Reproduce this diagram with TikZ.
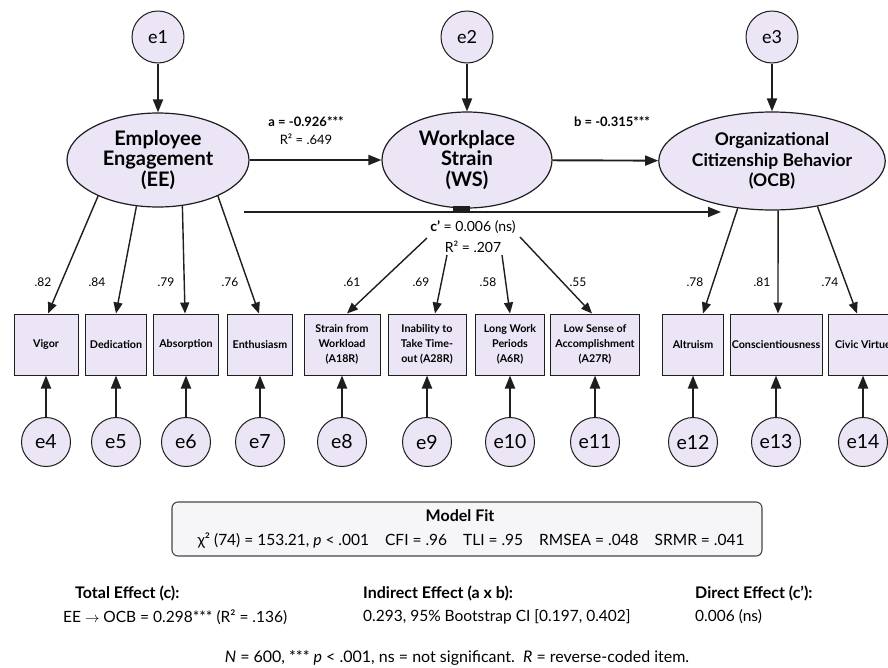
\documentclass[tikz,border=0pt]{standalone}
\usepackage{fontspec}
\setmainfont{Lato}
\usetikzlibrary{arrows.meta, positioning, shapes.geometric, calc}
\definecolor{latentfill}{RGB}{235,229,246}
\definecolor{linegray}{RGB}{30,30,30}
\definecolor{fitfill}{RGB}{246,246,249}
\definecolor{fitline}{RGB}{70,70,70}

\begin{document}
\begin{tikzpicture}[
  x=1pt, y=-1pt,
  latent/.style={ellipse, draw=linegray, line width=1.2pt, fill=latentfill, inner sep=0pt, font=\fontsize{20}{20.5}\selectfont\bfseries, align=center},
  errtop/.style={circle, draw=linegray, line width=1pt, fill=latentfill, minimum size=52pt, inner sep=0pt, font=\fontsize{18}{20}\selectfont},
  errbot/.style={circle, draw=linegray, line width=1pt, fill=latentfill, minimum size=49pt, inner sep=0pt, font=\fontsize{19.5}{22}\selectfont},
  indicator/.style={rectangle, draw=linegray, line width=1pt, fill=latentfill, minimum height=61pt, inner sep=1pt, font=\fontsize{10.7}{15}\selectfont\bfseries, align=center},
  arr/.style={-{Triangle[length=13pt,width=10pt]}, line width=1.9pt, linegray},
  load/.style={-{Triangle[length=11pt,width=9pt]}, line width=1.4pt, linegray},
  coef/.style={inner sep=0pt, font=\fontsize{12}{13}\selectfont},
  pathlab/.style={inner sep=0pt, font=\fontsize{13}{15}\selectfont},
  txt/.style={inner sep=0pt, font=\fontsize{15.5}{18}\selectfont},
  heading/.style={inner sep=0pt, font=\fontsize{16}{18}\selectfont\bfseries}
]
  \useasboundingbox (0,0) rectangle (888,667);
  \clip (0,0) rectangle (888,667);
  \fill[white] (0,0) rectangle (888,667);

  % latent variables
  \node[latent, minimum width=182pt, minimum height=94pt] (ee) at (158,160) {Employee\\Engagement\\(EE)};
  \node[latent, minimum width=170pt, minimum height=96pt] (ws) at (467,160) {Workplace\\Strain\\(WS)};
  \node[latent, minimum width=206pt, minimum height=98pt, font=\fontsize{17.5}{20.5}\selectfont\bfseries] (ocb) at (772,161) {Organizational\\Citizenship Behavior\\(OCB)};

  \node[errtop] (e1) at (158,37) {e1};
  \node[errtop] (e2) at (467,37) {e2};
  \node[errtop] (e3) at (772,37) {e3};
  \draw[arr] (e1) -- (ee);
  \draw[arr] (e2) -- (ws);
  \draw[arr] (e3) -- (ocb);

  % structural paths
  \draw[arr] (ee) -- (ws);
  \draw[arr] (ws) -- (ocb);
  \node[pathlab, font=\fontsize{13}{15}\selectfont\bfseries] (alab) at (306,122) {a = -0.926***};
  \node[pathlab] (ar2) at (306,139) {R² = .649};
  \node[pathlab, font=\fontsize{13}{15}\selectfont\bfseries] (blab) at (612,122) {b = -0.315***};

  \coordinate (cstart) at (244,212);
  \coordinate (cend) at (721,212);
  \fill[linegray] (453,206) rectangle (470,213);
  \draw[arr] (cstart) -- (cend);
  \node[pathlab, font=\fontsize{14}{15}\selectfont] (clab) at (473,227) {\textbf{c’} = 0.006 (ns)};
  \node[pathlab, font=\fontsize{14}{15}\selectfont] (cr2) at (473,247) {R² = .207};

  % indicators
  \node[indicator, minimum width=64pt] (vigor) at (46,344.5) {Vigor};
  \node[indicator, minimum width=61pt] (ded) at (116,344.5) {Dedication};
  \node[indicator, minimum width=65pt] (abs) at (186,344.5) {Absorption};
  \node[indicator, minimum width=65pt] (enth) at (260,344.5) {Enthusiasm};
  \node[indicator, minimum width=76pt] (a18) at (342,344.5) {Strain from\\Workload\\(A18R)};
  \node[indicator, minimum width=78pt] (a28) at (427,344.5) {Inability to\\Take Time-\\out (A28R)};
  \node[indicator, minimum width=69pt] (a6) at (510,344.5) {Long Work\\Periods\\(A6R)};
  \node[indicator, minimum width=89pt] (a27) at (595,344.5) {Low Sense of\\Accomplishment\\(A27R)};
  \node[indicator, minimum width=61pt] (alt) at (693,344.5) {Altruism};
  \node[indicator, minimum width=92pt] (con) at (776,344.5) {Conscientiousness};
  \node[indicator, minimum width=70pt] (civ) at (863,344.5) {Civic Virtue};

  % loadings
  \draw[load] (ee.-149) -- ([xshift=2pt]vigor.north);
  \draw[load] (ee.-115) -- (ded.north);
  \draw[load] (ee.-62) -- ([xshift=-1pt]abs.north);
  \draw[load] (ee.-31) -- ([xshift=-1pt]enth.north);
  \coordinate (s1) at (427,238);
  \coordinate (s2) at (447,255);
  \coordinate (s3) at (502,255);
  \coordinate (s4) at (520,237);
  \draw[load] (s1) -- ([xshift=5pt]a18.north);
  \draw[load] (s2) -- ([xshift=8pt]a28.north);
  \draw[load] (s3) -- (a6.north);
  \draw[load] (s4) -- ([xshift=-3pt]a27.north);
  \draw[load] (ocb.-126) -- ([xshift=10pt]alt.north);
  \draw[load] (ocb.-83) -- ([xshift=2pt]con.north);
  \draw[load] (ocb.-45) -- ([xshift=-6pt]civ.north);

  \node[coef] (l1) at (43,282) {.82};
  \node[coef] (l2) at (97,282) {.84};
  \node[coef] (l3) at (166,282) {.79};
  \node[coef] (l4) at (230,282) {.76};
  \node[coef] (l5) at (352,282) {.61};
  \node[coef] (l6) at (421,282) {.69};
  \node[coef] (l7) at (488,282) {.58};
  \node[coef] (l8) at (578,282) {.55};
  \node[coef] (l9) at (695,282) {.78};
  \node[coef] (l10) at (762,282) {.81};
  \node[coef] (l11) at (830,282) {.74};

  % measurement errors
  \node[errbot] (e4) at (46,442) {e4};
  \node[errbot] (e5) at (116,442) {e5};
  \node[errbot] (e6) at (186,442) {e6};
  \node[errbot] (e7) at (260,442) {e7};
  \node[errbot] (e8) at (342,442) {e8};
  \node[errbot] (e9) at (427,442) {e9};
  \node[errbot] (e10) at (510,442) {e10};
  \node[errbot] (e11) at (595,442) {e11};
  \node[errbot] (e12) at (693,442) {e12};
  \node[errbot] (e13) at (776,442) {e13};
  \node[errbot] (e14) at (863,442) {e14};
  \draw[arr] (e4) -- (vigor);
  \draw[arr] (e5) -- (ded);
  \draw[arr] (e6) -- (abs);
  \draw[arr] (e7) -- (enth);
  \draw[arr] (e8) -- (a18);
  \draw[arr] (e9) -- (a28);
  \draw[arr] (e10) -- (a6);
  \draw[arr] (e11) -- (a27);
  \draw[arr] (e12) -- (alt);
  \draw[arr] (e13) -- (con);
  \draw[arr] (e14) -- (civ);

  % fit and effects
  \node[draw=fitline, fill=fitfill, line width=1.1pt, rounded corners=6pt, minimum width=590pt, minimum height=54pt] (fit) at (467,529) {};
  \node[heading] (fittitle) at (460,516) {Model Fit};
  \node[txt] (fitvals) at (471,541) {χ² (74) = 153.21, \textit{p} < .001\hspace{16pt}CFI = .96\hspace{16pt}TLI = .95\hspace{16pt}RMSEA = .048\hspace{16pt}SRMR = .041};

  \node[heading, anchor=west] (totalhd) at (75,593) {Total Effect (c):};
  \node[txt, anchor=west] (totalval) at (63,617) {EE \ensuremath{\rightarrow} OCB = 0.298*** (R² = .136)};
  \node[heading, anchor=west] (indhd) at (363,593) {Indirect Effect (a x b):};
  \node[txt, anchor=west] (indval) at (363,617) {0.293, 95\% Bootstrap CI [0.197, 0.402]};
  \node[heading, anchor=west] (dirhd) at (695,593) {Direct Effect (c’):};
  \node[txt, anchor=west] (dirval) at (695,617) {0.006 (ns)};
  \node[txt, font=\fontsize{16}{18}\selectfont] (note) at (457,658) {\textit{N} = 600, *** \textit{p} < .001, ns = not significant.\ \ \textit{R} = reverse-coded item.};
\end{tikzpicture}
\end{document}
